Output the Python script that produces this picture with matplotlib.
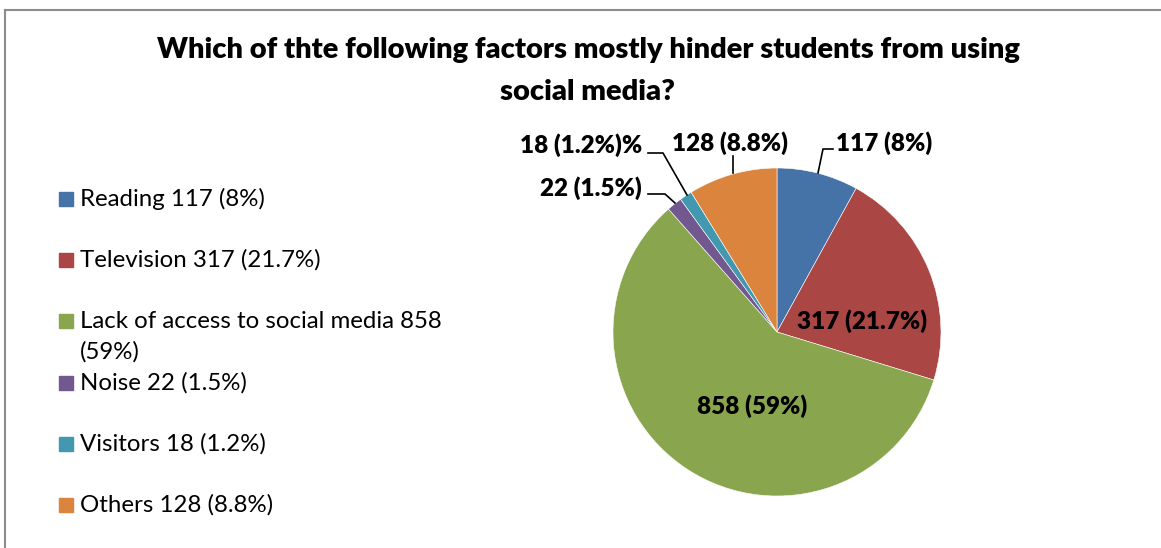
import matplotlib.pyplot as plt
from matplotlib.patches import Rectangle
from matplotlib.lines import Line2D

plt.rcParams['font.family'] = ['Lato', 'DejaVu Sans']

# données
categories = ["Reading", "Television", "Lack of access to social media", "Noise", "Visitors", "Others"]
values = [117, 317, 858, 22, 18, 128]
percents = ["8%", "21.7%", "59%", "1.5%", "1.2%", "8.8%"]
legend_labels = ["Reading 117 (8%)", "Television 317 (21.7%)",
                 "Lack of access to social media 858\n(59%)", "Noise 22 (1.5%)",
                 "Visitors 18 (1.2%)", "Others 128 (8.8%)"]
slice_labels = ["117 (8%)", "317 (21.7%)", "858 (59%)", "22 (1.5%)", "18 (1.2%)%", "128 (8.8%)"]
colors = ["#4572A7", "#AA4643", "#89A54E", "#71588F", "#4198AF", "#DB843D"]

W, H = 1161, 548
fig = plt.figure(figsize=(W / 100, H / 100), dpi=100)

# cadre gris
fig.add_artist(Line2D([5 / W, 5 / W], [0, 1 - 10 / H], color="#8c8c8c", lw=1.5))
fig.add_artist(Line2D([5 / W, 1], [1 - 10 / H, 1 - 10 / H], color="#8c8c8c", lw=1.5))

# titre
title_kw = dict(ha="center", va="center", fontsize=21, fontweight="heavy")
fig.text(588 / W, 1 - 50 / H, "Which of thte following factors mostly hinder students from using", **title_kw)
fig.text(588 / W, 1 - 92 / H, "social media?", **title_kw)

# camembert
cx, cy, R = 777, 332, 164
size = 3 * R
ax = fig.add_axes([(cx - size / 2) / W, (H - cy - size / 2) / H, size / W, size / H])
wedges, _ = ax.pie(values, colors=colors, startangle=90, counterclock=False, radius=1,
                   wedgeprops=dict(edgecolor="white", linewidth=0.4))
ax.set_xlim(-1.5, 1.5)
ax.set_ylim(-1.5, 1.5)
ax.set_aspect("equal")
ax.axis("off")


def px(x, y):
    # pixels -> coordonnées de l'axe
    return ((x - cx) / R, (cy - y) / R)


lab_kw = dict(va="center", fontsize=17.5, fontweight="heavy")

# étiquettes internes
ax.text(*px(862, 321), slice_labels[1], ha="center", **lab_kw)
ax.text(*px(752, 406), slice_labels[2], ha="center", **lab_kw)

# étiquettes externes avec lignes de rappel
lk = dict(color="black", lw=1.2, clip_on=False)
ax.plot(*zip(px(818, 173), px(823, 149), px(833, 149)), **lk)
ax.text(*px(836, 143), slice_labels[0], ha="left", **lab_kw)
ax.plot(*zip(px(733, 173), px(733, 156)), **lk)
ax.text(*px(730, 143), slice_labels[5], ha="center", **lab_kw)
ax.plot(*zip(px(648, 153), px(663, 153), px(687, 195)), **lk)
ax.text(*px(642, 145), slice_labels[4], ha="right", **lab_kw)
ax.plot(*zip(px(648, 194), px(665, 194), px(675, 203)), **lk)
ax.text(*px(642, 188), slice_labels[3], ha="right", **lab_kw)

# légende
legend_y = [199, 260, 321, 383, 444, 505]
for lab, col, y in zip(legend_labels, colors, legend_y):
    fig.add_artist(Rectangle((59 / W, 1 - (y + 7) / H), 14 / W, 14 / H, color=col,
                             transform=fig.transFigure))
    for i, line in enumerate(lab.split("\n")):
        fig.text(80 / W, 1 - (y + 31 * i) / H, line, ha="left", va="center", fontsize=17.3)

fig.savefig("out.png", dpi=100)
